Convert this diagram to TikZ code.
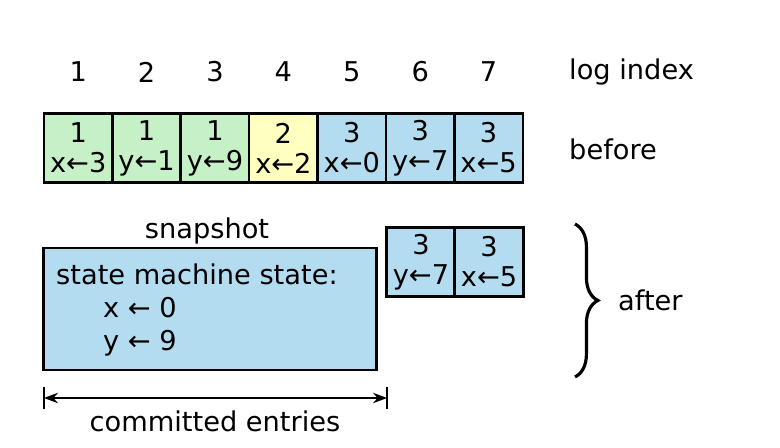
\documentclass[tikz,border=0pt]{standalone}
\usepackage{fontspec}
\setmainfont{DejaVu Sans}
\usetikzlibrary{positioning,decorations.pathreplacing,arrows.meta}
\definecolor{cgreen}{HTML}{C6F0C6}
\definecolor{cyellow}{HTML}{FFFFC0}
\definecolor{cblue}{HTML}{B3DCF0}
\begin{document}
\begin{tikzpicture}[
    x=0.02cm, y=-0.02cm,
    cell/.style={rectangle, draw, line width=1.5pt, minimum width=1.37cm, minimum height=1.38cm, inner sep=0pt, align=center, font=\fontsize{15.5}{17}\selectfont},
    lbl/.style={font=\fontsize{15.5}{18}\selectfont},
    arrow/.style={{Stealth[length=8pt]}-{Stealth[length=8pt]}, thick}
]
\useasboundingbox (0,0) rectangle (780,448);

% log row
\foreach \i/\t/\c/\f in {1/1/x{\textleftarrow}3/cgreen, 2/1/y{\textleftarrow}1/cgreen, 3/1/y{\textleftarrow}9/cgreen,
    4/2/x{\textleftarrow}2/cyellow, 5/3/x{\textleftarrow}0/cblue, 6/3/y{\textleftarrow}7/cblue, 7/3/x{\textleftarrow}5/cblue} {
  \node[cell, fill=\f] (c\i) at ({44+68.4*(\i-0.5)},148) {\t\\\c};
  \node[lbl] (n\i) at ({44+68.4*(\i-0.5)},72) {\i};
}
\node[lbl, anchor=west] (li) at (563,72) {log index};
\node[lbl, anchor=west] (bf) at (563,149) {before};

% after
\node[cell, fill=cblue] (a6) at (421,262) {3\\y{\textleftarrow}7};
\node[cell, fill=cblue] (a7) at (489,262) {3\\x{\textleftarrow}5};

% snapshot
\node[rectangle, draw, line width=1.5pt, fill=cblue, minimum width=6.66cm, minimum height=2.44cm] (snap) at (210,309) {};
\node[lbl] (st) at (207,231) {snapshot};
\node[lbl, anchor=west] (sm) at (50,274) {state machine state:};
\node[lbl, anchor=west] (sx) at (97,308) {x {\textleftarrow} 0};
\node[lbl, anchor=west] (sy) at (97,343) {y {\textleftarrow} 9};

% brace
\coordinate (bt) at (575,224);
\coordinate (bb) at (575,377);
\draw[line width=1.8pt, decorate, decoration={brace, amplitude=13pt}] (bt) -- (bb);
\node[lbl, anchor=west] (af) at (612,300) {after};

% committed
\coordinate (ca) at (44,398);
\coordinate (cb) at (387,398);
\draw[arrow] (ca) -- (cb);
\draw[thick] (44,387) -- (44,409) (387,387) -- (387,409);
\node[lbl] (ce) at (215,421) {committed entries};
\end{tikzpicture}
\end{document}
